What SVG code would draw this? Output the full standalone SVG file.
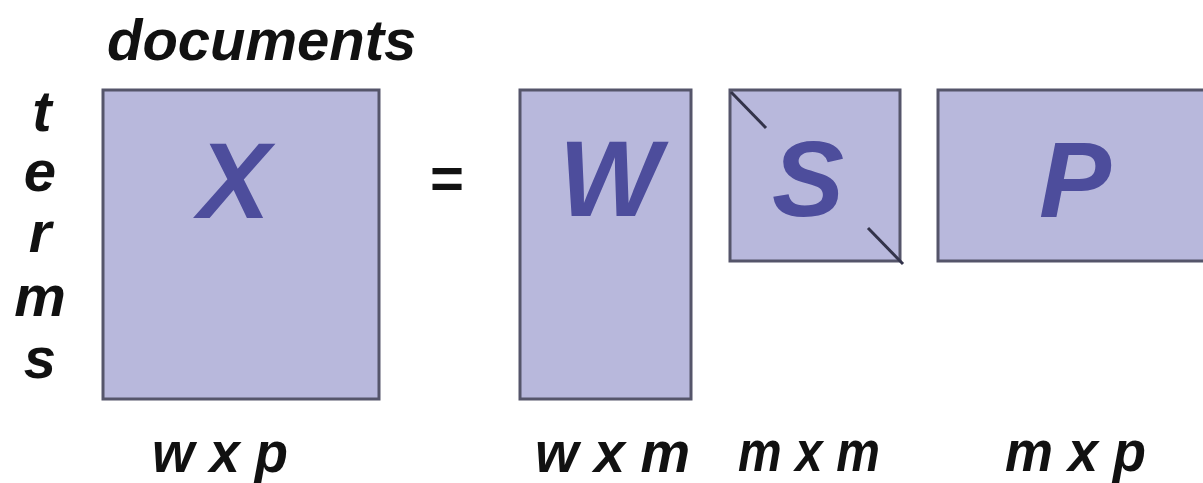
<svg xmlns="http://www.w3.org/2000/svg" width="1203" height="483" viewBox="0 0 1203 483">
<style>
.box{fill:#b8b8dc;stroke:#55556a;stroke-width:3}
.big{font-family:"Liberation Sans",Arial,sans-serif;font-weight:bold;font-style:italic;font-size:108px;fill:#4d4d9c;text-anchor:middle}
.lab{font-family:"Liberation Sans",Arial,sans-serif;font-weight:bold;font-style:italic;font-size:58px;fill:#111}
.dim{font-family:"Liberation Sans",Arial,sans-serif;font-weight:bold;font-style:italic;font-size:58px;fill:#111}
.diag{stroke:#33334a;stroke-width:3}
</style>
<rect width="1203" height="483" fill="#ffffff"/>
<text class="lab" x="107" y="60">documents</text>
<g class="lab" text-anchor="middle">
<text x="42" y="131">t</text>
<text x="40" y="191">e</text>
<text x="40" y="252">r</text>
<text x="40" y="316">m</text>
<text x="40" y="378">s</text>
</g>
<g id="X">
<rect class="box" x="103" y="90" width="276" height="309"/>
<text class="big" x="234" y="218">X</text>
</g>
<text class="lab" x="446" y="198" text-anchor="middle">=</text>
<g id="W">
<rect class="box" x="520" y="90" width="171" height="309"/>
<text class="big" x="610" y="216">W</text>
</g>
<g id="S">
<rect class="box" x="730" y="90" width="170" height="171"/>
<line class="diag" x1="731" y1="92" x2="766" y2="128"/>
<line class="diag" x1="868" y1="228" x2="903" y2="264"/>
<text class="big" x="808" y="216">S</text>
</g>
<g id="P">
<rect class="box" x="938" y="90" width="268" height="171"/>
<text class="big" x="1075" y="217">P</text>
</g>
<text class="dim" x="152" y="472" textLength="136" lengthAdjust="spacingAndGlyphs">w x p</text>
<text class="dim" x="535" y="472" textLength="155" lengthAdjust="spacingAndGlyphs">w x m</text>
<text class="dim" x="738" y="471" textLength="142" lengthAdjust="spacingAndGlyphs">m x m</text>
<text class="dim" x="1005" y="471" textLength="141" lengthAdjust="spacingAndGlyphs">m x p</text>
</svg>
